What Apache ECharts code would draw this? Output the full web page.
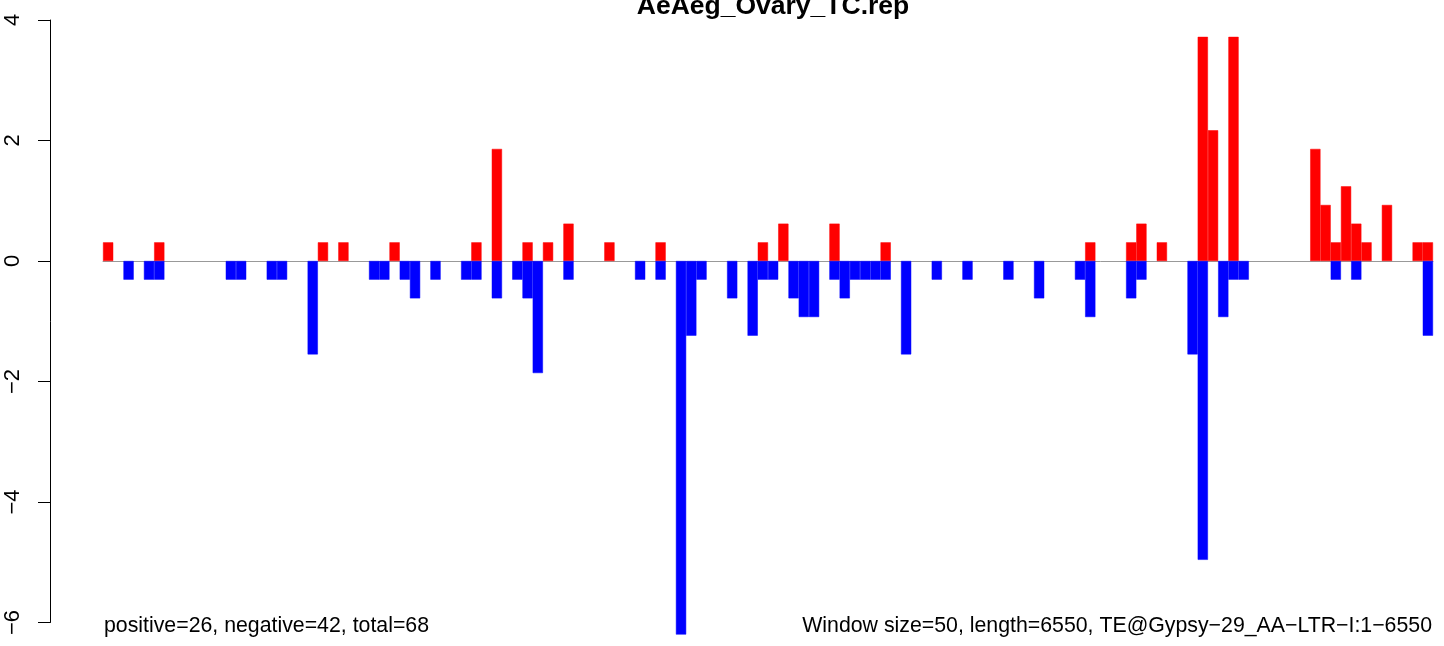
<!DOCTYPE html>
<html>
<head>
<meta charset="utf-8">
<title>AeAeg_Ovary_TC.rep</title>
<script src="https://cdn.jsdelivr.net/npm/echarts@6/dist/echarts.min.js"></script>
<style>
  html, body { margin: 0; padding: 0; background: #fff; }
  #chart-wrapper { width: 1444px; height: 646px; }
</style>
</head>
<body>
<div id="chart-wrapper"></div>
<script>
// window size and TE length (one bar per 50 bp window)
const windowSize = 50;
const teLength = 6550;
const windowCount = 130;

// sense (red, up) coverage per window
const positiveValues = [
  0.31, 0, 0, 0, 0, 0.31, 0, 0, 0, 0,
  0, 0, 0, 0, 0, 0, 0, 0, 0, 0,
  0, 0.31, 0, 0.31, 0, 0, 0, 0, 0.31, 0,
  0, 0, 0, 0, 0, 0, 0.31, 0, 1.86, 0,
  0, 0.31, 0, 0.31, 0, 0.62, 0, 0, 0, 0.31,
  0, 0, 0, 0, 0.31, 0, 0, 0, 0, 0,
  0, 0, 0, 0, 0.31, 0, 0.62, 0, 0, 0,
  0, 0.62, 0, 0, 0, 0, 0.31, 0, 0, 0,
  0, 0, 0, 0, 0, 0, 0, 0, 0, 0,
  0, 0, 0, 0, 0, 0, 0.31, 0, 0, 0,
  0.31, 0.62, 0, 0.31, 0, 0, 0, 3.72, 2.17, 0,
  3.72, 0, 0, 0, 0, 0, 0, 0, 1.86, 0.93,
  0.31, 1.24, 0.62, 0.31, 0, 0.93, 0, 0, 0.31, 0.31
];

// antisense (blue, down) coverage per window
const negativeValues = [
  0, 0, -0.31, 0, -0.31, -0.31, 0, 0, 0, 0,
  0, 0, -0.31, -0.31, 0, 0, -0.31, -0.31, 0, 0,
  -1.55, 0, 0, 0, 0, 0, -0.31, -0.31, 0, -0.31,
  -0.62, 0, -0.31, 0, 0, -0.31, -0.31, 0, -0.62, 0,
  -0.31, -0.62, -1.86, 0, 0, -0.31, 0, 0, 0, 0,
  0, 0, -0.31, 0, -0.31, 0, -6.2, -1.24, -0.31, 0,
  0, -0.62, 0, -1.24, -0.31, -0.31, 0, -0.62, -0.93, -0.93,
  0, -0.31, -0.62, -0.31, -0.31, -0.31, -0.31, 0, -1.55, 0,
  0, -0.31, 0, 0, -0.31, 0, 0, 0, -0.31, 0,
  0, -0.62, 0, 0, 0, -0.31, -0.93, 0, 0, 0,
  -0.62, -0.31, 0, 0, 0, 0, -1.55, -4.96, 0, -0.93,
  -0.31, -0.31, 0, 0, 0, 0, 0, 0, 0, 0,
  -0.31, 0, -0.31, 0, 0, 0, 0, 0, 0, -1.24
];

const yTicks = [-6, -4, -2, 0, 2, 4];

const mainTitle = "AeAeg_Ovary_TC.rep";
const countsText = "positive=26, negative=42, total=68";
const infoText = "Window size=50, length=6550, TE@Gypsy\u221229_AA\u2212LTR\u2212I:1\u22126550";

const categories = [];
for (let i = 0; i < windowCount; i++) {
  categories.push(String(i * windowSize + 1));
}

// empty windows draw nothing (no border sliver on the zero line)
const toBars = (vals) => vals.map((v) => (v === 0 ? "-" : v));

const FONT = "'Liberation Sans', Arial, Helvetica, sans-serif";
const pxPerUnit = 60.25;
const plotTop = 20;

const chartDom = document.getElementById("chart-wrapper");
const chart = echarts.init(chartDom, null, { renderer: "canvas" });

const option = {
  backgroundColor: "#ffffff",
  animation: false,
  title: [
    {
      text: mainTitle,
      left: 768,
      textAlign: "center",
      top: -12,
      textStyle: { fontFamily: FONT, fontSize: 26.5, fontWeight: "bold", color: "#000" },
    },
    {
      text: countsText,
      left: 104,
      top: 616,
      padding: 0,
      textStyle: { fontFamily: FONT, fontSize: 21.3, fontWeight: "normal", color: "#000" },
    },
    {
      text: infoText,
      right: 12,
      top: 616,
      padding: 0,
      textStyle: { fontFamily: FONT, fontSize: 21.3, fontWeight: "normal", color: "#000" },
    },
  ],
  grid: [
    // bars
    { left: 103, right: 11, top: plotTop, height: 10.2 * pxPerUnit },
    // y axis only (R draws it from -6 to 4)
    { left: 50, width: 1300, top: plotTop, height: 10 * pxPerUnit },
  ],
  xAxis: [
    {
      type: "category",
      gridIndex: 0,
      data: categories,
      boundaryGap: true,
      axisLine: { show: true, onZero: true, lineStyle: { color: "#999999", width: 1 } },
      axisTick: { show: false },
      axisLabel: { show: false },
      splitLine: { show: false },
    },
    {
      type: "value",
      gridIndex: 1,
      show: false,
    },
  ],
  yAxis: [
    {
      type: "value",
      gridIndex: 0,
      min: -6.2,
      max: 4,
      show: false,
      splitLine: { show: false },
    },
    {
      type: "value",
      gridIndex: 1,
      min: yTicks[0],
      max: yTicks[yTicks.length - 1],
      interval: 2,
      axisLine: { show: true, lineStyle: { color: "#000", width: 1 } },
      axisTick: { show: true, length: 12, lineStyle: { color: "#000", width: 1 } },
      axisLabel: {
        rotate: 90,
        margin: 26,
        fontFamily: FONT,
        fontSize: 22,
        color: "#000",
        formatter: (v) => String(v).replace("-", "\u2212"),
      },
      splitLine: { show: false },
    },
  ],
  series: [
    {
      name: "positive",
      type: "bar",
      xAxisIndex: 0,
      yAxisIndex: 0,
      data: toBars(positiveValues),
      barWidth: "100%",
      barGap: "-100%",
      barCategoryGap: "0%",
      itemStyle: { color: "#ff0000", borderColor: "#ff0000", borderWidth: 0.5 },
      emphasis: { disabled: true },
    },
    {
      name: "negative",
      type: "bar",
      xAxisIndex: 0,
      yAxisIndex: 0,
      data: toBars(negativeValues),
      barWidth: "100%",
      barGap: "-100%",
      barCategoryGap: "0%",
      itemStyle: { color: "#0000ff", borderColor: "#0000ff", borderWidth: 0.5 },
      emphasis: { disabled: true },
    },
    {
      // keeps the axis-only grid alive
      name: "axis",
      type: "line",
      xAxisIndex: 1,
      yAxisIndex: 1,
      data: [],
      silent: true,
    },
  ],
};

chart.setOption(option);
</script>
</body>
</html>
